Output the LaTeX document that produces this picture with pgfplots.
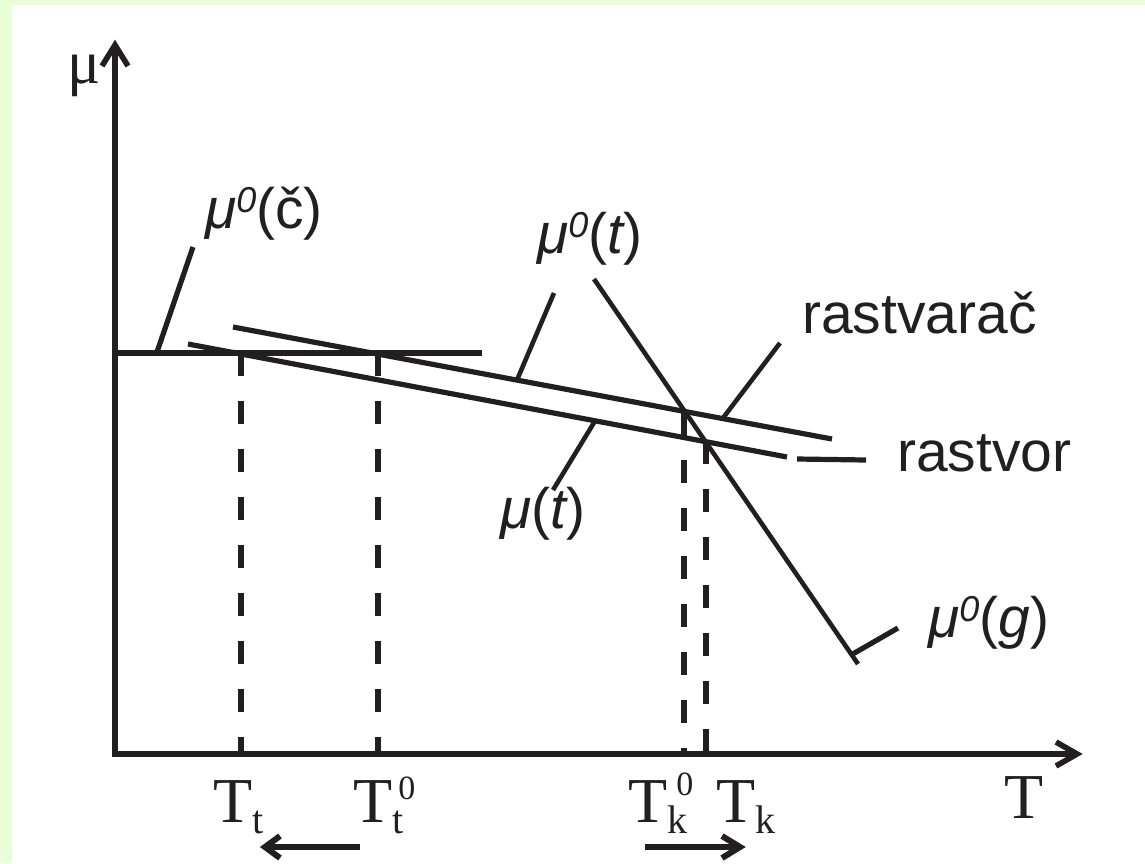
\documentclass[border=0pt]{standalone}
\usepackage{fontspec}
\setmainfont{Liberation Sans}
\newfontfamily\serif{Liberation Serif}
\usepackage{pgfplots}
\pgfplotsset{compat=1.18}
\definecolor{ink}{HTML}{231F20}
\definecolor{bg}{RGB}{232,255,216}
\newcommand{\sanslab}[1]{{\fontsize{57}{57}\selectfont #1}}
\newcommand{\supz}{\raisebox{16pt}{\fontsize{36}{36}\selectfont\itshape 0}}
\newcommand{\iv}[1]{{\itshape #1}}
\newcommand{\supT}[1]{\raisebox{#1}{\fontsize{34}{34}\selectfont 0}}
\begin{document}
\begin{tikzpicture}
\begin{axis}[
  scale only axis, width=1145pt, height=863pt,
  xmin=0, xmax=1145, ymin=0, ymax=863, y dir=reverse,
  hide axis, clip=false,
  ln/.style={draw=ink, line width=5.2pt, mark=none, line join=miter, solid},
  dl/.style={draw=ink, line width=5.2pt, mark=none, dash pattern=on 23pt off 25pt},
]
% background
\addplot[fill=bg, draw=none, mark=none] coordinates {(0,0) (1145,0) (1145,863) (0,863) (0,0)};
\addplot[fill=white, draw=none, mark=none] coordinates {(12,5) (1145,5) (1145,863) (12,863) (12,5)};
% axes
\addplot[ln, line width=5.6pt] coordinates {(115,757) (115,48)};
\addplot[ln, line width=5.6pt] coordinates {(102,66) (115,45) (128,66)};
\addplot[ln, line width=5.6pt] coordinates {(112,754) (1074,754)};
\addplot[ln, line width=5.6pt] coordinates {(1056,742) (1077,754) (1056,766)};
% mu0(c) horizontal line and leader
\addplot[ln] coordinates {(115,353) (482,353)};
\addplot[ln] coordinates {(157,352) (193,247)};
% upper line (rastvarac) and lower line (rastvor)
\addplot[ln] coordinates {(233,327) (832,439)};
\addplot[ln] coordinates {(188,344) (787,457)};
\addplot[ln] coordinates {(797,459) (866,460)};
% steep line mu0(g)
\addplot[ln, line width=4.6pt] coordinates {(594,279) (858,664)};
\addplot[ln] coordinates {(851,655) (898,628)};
% leaders
\addplot[ln, line width=4.6pt] coordinates {(517,380) (554,293)};
\addplot[ln, line width=4.6pt] coordinates {(595,421) (553,490)};
\addplot[ln, line width=4.6pt] coordinates {(723,418) (780,343)};
% dashed verticals
\addplot[dl] coordinates {(241,353) (241,754)};
\addplot[dl] coordinates {(378,353) (378,754)};
\addplot[ln] coordinates {(684,411) (684,437)};
\addplot[dl] coordinates {(684,460) (684,754)};
\addplot[dl] coordinates {(706,441) (706,754)};
% bottom arrows
\addplot[ln] coordinates {(360,847) (268,847)};
\addplot[ln, line width=6pt] coordinates {(280,836) (265,847) (280,858)};
\addplot[ln] coordinates {(645,847) (738,847)};
\addplot[ln, line width=6pt] coordinates {(722,836) (740,847) (722,858)};
% texts
\node[anchor=base west, inner sep=0, text=ink] at (axis cs:67,83) {\serif\fontsize{62}{62}\selectfont μ};
\node[anchor=base west, inner sep=0, text=ink] at (axis cs:205,228) {\sanslab{\iv{μ}\supz(č)}};
\node[anchor=base west, inner sep=0, text=ink] at (axis cs:537,253) {\sanslab{\iv{μ}\supz(\iv{t})}};
\node[anchor=base west, inner sep=0, text=ink] at (axis cs:500,528) {\sanslab{\iv{μ}(\iv{t})}};
\node[anchor=base west, inner sep=0, text=ink] at (axis cs:928,637) {\sanslab{\iv{μ}\supz(\iv{g})}};
\node[anchor=base west, inner sep=0, text=ink] at (axis cs:802,333) {\fontsize{57}{57}\selectfont rastvarač};
\node[anchor=base west, inner sep=0, text=ink] at (axis cs:897,471) {\fontsize{57}{57}\selectfont rastvor};
\node[anchor=base west, inner sep=0, text=ink] at (axis cs:213,822) {\serif\fontsize{64}{64}\selectfont T\raisebox{-11pt}{\fontsize{40}{40}\selectfont t}};
\node[anchor=base west, inner sep=0, text=ink] at (axis cs:353,822) {\serif\fontsize{64}{64}\selectfont T\rlap{\raisebox{-11pt}{\fontsize{40}{40}\selectfont t}}\hspace{6pt}\supT{23pt}};
\node[anchor=base west, inner sep=0, text=ink] at (axis cs:628,822) {\serif\fontsize{64}{64}\selectfont T\rlap{\raisebox{-11pt}{\fontsize{40}{40}\selectfont k}}\hspace{9pt}\supT{27pt}};
\node[anchor=base west, inner sep=0, text=ink] at (axis cs:716,822) {\serif\fontsize{64}{64}\selectfont T\raisebox{-11pt}{\fontsize{40}{40}\selectfont k}};
\node[anchor=base west, inner sep=0, text=ink] at (axis cs:1004,818) {\serif\fontsize{64}{64}\selectfont T};
\end{axis}
\end{tikzpicture}
\end{document}
